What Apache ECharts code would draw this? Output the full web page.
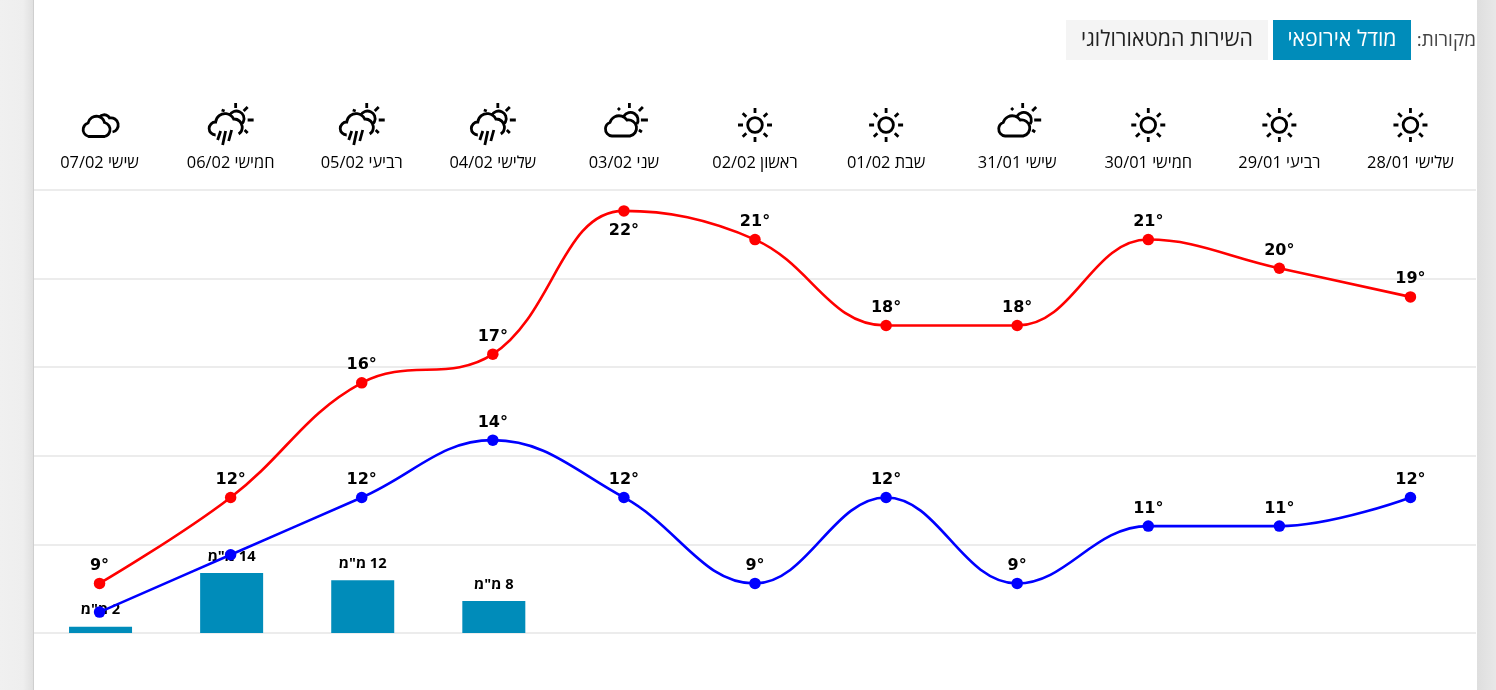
<!DOCTYPE html>
<html><head><meta charset="utf-8">
<style>html,body{margin:0;padding:0;background:#fff}#c{width:1496px;height:690px}</style>
<script src="https://cdn.jsdelivr.net/npm/echarts@6/dist/echarts.min.js"></script>
</head><body><div id="c"></div>
<script>
const days = ['שלישי 28/01','רביעי 29/01','חמישי 30/01','שישי 31/01','שבת 01/02','ראשון 02/02','שני 03/02','שלישי 04/02','רביעי 05/02','חמישי 06/02','שישי 07/02'];
const icons = ['sun','sun','sun','partly','sun','sun','partly','rain','rain','rain','cloud'];
const highs = [19,20,21,18,18,21,22,17,16,12,9];
const lows = [12,11,11,9,12,9,12,14,12,10,8];
const lowLabelShown = [1,1,1,1,1,1,1,1,1,0,0];
const highLabelBelow = [0,0,0,0,0,0,1,0,0,0,0];
const rain = [null,null,null,null,null,null,null,7.6,12.49,14.2,1.5];
const FONT = '"Open Sans","Noto Sans",sans-serif';
const TEMP_FONT = '"DejaVu Sans",sans-serif';

const rays = 'M0,-17V-12 M0,12V17 M-17,0H-12 M12,0H17 M8.7,-8.3L12.3,-11.7 M-8.7,-8.3L-12.3,-11.7 M8.7,8.3L12.3,11.7 M-8.7,8.3L-12.3,11.7';
const iconPaths = {
  sun: 'M-7.3,0A7.3,7.3 0 1 1 7.3,0A7.3,7.3 0 1 1 -7.3,0Z ' + rays,
  partly: 'M-12,11A7,7 0 0 1 -14,-2.5A9.5,9.5 0 0 1 3,-5A8,8 0 0 1 6,11Z ' +
          'M0,-9A7.5,7.5 0 1 1 13,-1 M5.5,-22V-17 M15,-14L19,-18 M-6,-17L-4,-15 M17,-5H24 M15,5L18,7',
  rain: 'M-15,10A6.5,6.5 0 0 1 -15,-3A9.5,9.5 0 0 1 3,-6A8.2,8.2 0 0 1 8,9 ' +
        'M-1,-9.5A7.5,7.5 0 1 1 11,-1 M5,-22V-17 M13,-14L17,-18 M-9,-15L-6,-14 M17,-5H23 M14,5L17,8 ' +
        'M-10,6L-13,15 M-5,6L-8,20 M1,5L-2,16',
  cloud: 'M-11,11.5A7,7 0 0 1 -11.5,-2A8.5,8.5 0 0 1 5,-2.5A7.2,7.2 0 0 1 5,11.5Z M0,-8A6,6 0 0 1 10,-7A7,7 0 0 1 13,7'
};
const anchor = 'M-30,-30M30,30 ';

const chart = echarts.init(document.getElementById('c'), null, {renderer:'canvas'});
chart.setOption({
  animation:false,
  backgroundColor:'#ffffff',
  textStyle:{fontFamily:FONT},
  grid:[
    {left:34,right:20,top:190,bottom:57},
    {left:35,right:19,top:190,bottom:57}
  ],
  xAxis:[
    {type:'category',data:days,inverse:true,position:'top',gridIndex:0,
     axisLine:{show:false},axisTick:{show:false},
     axisLabel:{fontSize:16.4,color:'#000',margin:19,fontFamily:FONT,interval:0}},
    {type:'category',data:days,inverse:true,gridIndex:1,show:false}
  ],
  yAxis:[
    {type:'value',min:7.27,max:22.73,gridIndex:0,show:false},
    {type:'value',min:0,max:105,interval:21,gridIndex:0,
     axisLabel:{show:false},axisLine:{show:false},axisTick:{show:false},
     splitLine:{show:true,lineStyle:{color:'#ececec',width:2}}},
    {type:'value',min:0,max:105,gridIndex:1,show:false}
  ],
  graphic:[
    {type:'rect',z:100,shape:{x:0,y:0,width:33,height:690},silent:true,
     style:{fill:new echarts.graphic.LinearGradient(0,0,1,0,[{offset:0,color:'#f0f0f0'},{offset:.7,color:'#eeeeee'},{offset:1,color:'#e0e0e0'}])}},
    {type:'rect',z:100,shape:{x:33,y:0,width:1,height:690},style:{fill:'#cfcfcf'}},
    {type:'rect',z:100,shape:{x:1477,y:0,width:19,height:690},
     style:{fill:new echarts.graphic.LinearGradient(0,0,1,0,[{offset:0,color:'#dedede'},{offset:1,color:'#e8e8e8'}])}},
    {type:'rect',z:100,shape:{x:1066,y:20,width:202,height:40},style:{fill:'#f4f4f4'}},
    {type:'rect',z:100,shape:{x:1273,y:20,width:138,height:40},style:{fill:'#008cba'}},
    {type:'text',z:101,x:1167,y:40,style:{text:'השירות המטאורולוגי',fill:'#222',font:'21.3px '+FONT,textAlign:'center',textVerticalAlign:'middle'}},
    {type:'text',z:101,x:1342,y:40,style:{text:'מודל אירופאי',fill:'#fff',font:'21.3px '+FONT,textAlign:'center',textVerticalAlign:'middle'}},
    {type:'text',z:101,x:1476,y:41,style:{text:'מקורות:\u200F',fill:'#444',font:'19px '+FONT,textAlign:'right',textVerticalAlign:'middle'}}
  ],
  series:[
    {type:'bar',name:'rain',xAxisIndex:1,yAxisIndex:2,data:rain,barWidth:63,z:1,
     itemStyle:{color:'#008cba'},
     label:{show:true,position:'top',distance:9,fontSize:14.7,fontWeight:'bold',color:'#000',fontFamily:FONT,
       formatter:p=>'\u200F'+Math.round(p.value)+' מ"מ'}},
    {type:'line',name:'high',xAxisIndex:0,yAxisIndex:0,smooth:0.4,symbol:'circle',symbolSize:11.5,z:3,
     lineStyle:{color:'#ff0000',width:2.6},itemStyle:{color:'#ff0000'},
     label:{show:true,fontSize:16,fontWeight:'bold',color:'#000',fontFamily:TEMP_FONT,formatter:'{c}°',distance:4},
     data:highs.map((v,i)=>({value:v,label:{position:highLabelBelow[i]?'bottom':'top',distance:highLabelBelow[i]?6:4}}))},
    {type:'line',name:'low',xAxisIndex:0,yAxisIndex:0,smooth:0.4,symbol:'circle',symbolSize:11.5,z:3,
     lineStyle:{color:'#0000ff',width:2.6},itemStyle:{color:'#0000ff'},
     label:{show:true,position:'top',distance:4,fontSize:16,fontWeight:'bold',color:'#000',fontFamily:TEMP_FONT,formatter:'{c}°'},
     data:lows.map((v,i)=>({value:v,label:{show:!!lowLabelShown[i]}}))},
    {type:'custom',name:'icons',xAxisIndex:0,yAxisIndex:0,z:4,clip:false,silent:true,
     data:icons.map((k,i)=>[i,k]),encode:{x:0},
     renderItem:(params,api)=>{
       const x = api.coord([api.value(0),10])[0];
       const y = params.coordSys.y - 65;
       return {type:'path',x:x,y:y,
         shape:{pathData:anchor+iconPaths[icons[params.dataIndex]],x:-30,y:-30,width:60,height:60,layout:'cover'},
         style:{fill:'none',stroke:'#000',lineWidth:2.8}};
     }}
  ]
});
</script></body></html>
